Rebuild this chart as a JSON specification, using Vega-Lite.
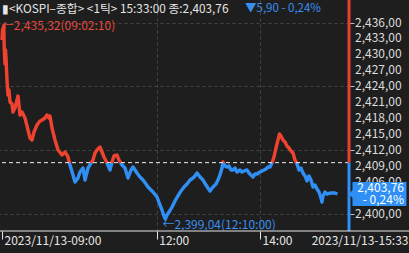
{
  "$schema": "https://vega.github.io/schema/vega-lite/v6.json",
  "width": 349,
  "height": 231,
  "autosize": "none",
  "padding": {"left": 0, "top": 0, "right": 60, "bottom": 22},
  "background": "#1e1e1e",
  "config": {
    "view": {"stroke": null},
    "font": "Noto Sans CJK KR"
  },
  "datasets": {
    "series": [
      {"m": 0, "p": 2432.71}, {"m": 0.58, "p": 2434.59}, {"m": 2.17, "p": 2435.32}, {"m": 2.33, "p": 2432.71},
      {"m": 2.91, "p": 2429.89}, {"m": 3.49, "p": 2428.2}, {"m": 4.07, "p": 2430.83}, {"m": 4.65, "p": 2429.33},
      {"m": 5.81, "p": 2425.19}, {"m": 6.98, "p": 2422.37}, {"m": 8.14, "p": 2423.31}, {"m": 9.3, "p": 2421.06},
      {"m": 11.63, "p": 2420.68}, {"m": 12.79, "p": 2419.18}, {"m": 15.12, "p": 2419.93}, {"m": 16.28, "p": 2420.68},
      {"m": 18.6, "p": 2422.18}, {"m": 19.77, "p": 2420.49}, {"m": 20.93, "p": 2418.61}, {"m": 23.26, "p": 2419.18},
      {"m": 26.74, "p": 2418.05}, {"m": 30.23, "p": 2415.79}, {"m": 32.56, "p": 2414.29}, {"m": 34.88, "p": 2413.91},
      {"m": 37.21, "p": 2415.42}, {"m": 40.7, "p": 2416.73}, {"m": 44.19, "p": 2417.49}, {"m": 46.51, "p": 2417.67},
      {"m": 50.0, "p": 2418.05}, {"m": 52.33, "p": 2418.61}, {"m": 54.65, "p": 2418.05}, {"m": 55.81, "p": 2418.43},
      {"m": 58.14, "p": 2416.17}, {"m": 61.63, "p": 2413.91}, {"m": 65.12, "p": 2412.03}, {"m": 69.77, "p": 2411.09},
      {"m": 73.26, "p": 2411.66}, {"m": 76.74, "p": 2410.72}, {"m": 79.07, "p": 2409.21}, {"m": 82.56, "p": 2407.34},
      {"m": 84.88, "p": 2406.02}, {"m": 88.37, "p": 2406.77}, {"m": 90.7, "p": 2407.9}, {"m": 94.19, "p": 2408.65},
      {"m": 96.51, "p": 2406.4}, {"m": 100.0, "p": 2408.65}, {"m": 103.49, "p": 2409.59}, {"m": 105.81, "p": 2410.15},
      {"m": 108.14, "p": 2411.47}, {"m": 110.47, "p": 2412.03}, {"m": 113.95, "p": 2412.6}, {"m": 116.28, "p": 2411.66},
      {"m": 118.6, "p": 2410.72}, {"m": 122.09, "p": 2409.59}, {"m": 125.58, "p": 2408.28}, {"m": 127.91, "p": 2409.78},
      {"m": 130.23, "p": 2410.91}, {"m": 133.72, "p": 2411.09}, {"m": 136.05, "p": 2410.15}, {"m": 139.53, "p": 2409.21},
      {"m": 143.02, "p": 2408.65}, {"m": 146.51, "p": 2406.77}, {"m": 150.0, "p": 2408.28}, {"m": 152.33, "p": 2408.84},
      {"m": 154.65, "p": 2408.28}, {"m": 156.98, "p": 2407.71}, {"m": 160.47, "p": 2406.96}, {"m": 163.95, "p": 2406.39},
      {"m": 167.44, "p": 2405.64}, {"m": 169.77, "p": 2405.08}, {"m": 173.26, "p": 2404.52}, {"m": 175.58, "p": 2404.14},
      {"m": 180.23, "p": 2403.2}, {"m": 183.72, "p": 2401.7}, {"m": 186.05, "p": 2400.76}, {"m": 188.37, "p": 2399.63},
      {"m": 190.0, "p": 2399.04}, {"m": 191.86, "p": 2399.82}, {"m": 194.19, "p": 2400.38}, {"m": 197.67, "p": 2401.32},
      {"m": 201.16, "p": 2402.45}, {"m": 204.65, "p": 2403.39}, {"m": 208.14, "p": 2404.33}, {"m": 211.63, "p": 2405.08},
      {"m": 215.12, "p": 2405.64}, {"m": 218.6, "p": 2406.39}, {"m": 222.09, "p": 2406.77}, {"m": 224.42, "p": 2407.15},
      {"m": 226.74, "p": 2407.71}, {"m": 230.23, "p": 2406.96}, {"m": 233.72, "p": 2406.39}, {"m": 237.21, "p": 2405.45},
      {"m": 241.86, "p": 2404.33}, {"m": 245.35, "p": 2405.08}, {"m": 248.84, "p": 2405.64}, {"m": 251.16, "p": 2406.39},
      {"m": 253.49, "p": 2407.34}, {"m": 255.81, "p": 2408.65}, {"m": 256.98, "p": 2409.78}, {"m": 259.3, "p": 2409.03},
      {"m": 261.63, "p": 2408.84}, {"m": 263.95, "p": 2409.03}, {"m": 266.28, "p": 2408.28}, {"m": 268.6, "p": 2408.28},
      {"m": 270.93, "p": 2408.65}, {"m": 273.26, "p": 2407.9}, {"m": 276.74, "p": 2408.28}, {"m": 279.07, "p": 2407.9},
      {"m": 281.4, "p": 2408.09}, {"m": 284.88, "p": 2408.28}, {"m": 287.21, "p": 2407.71}, {"m": 289.53, "p": 2407.34},
      {"m": 291.86, "p": 2406.96}, {"m": 294.19, "p": 2407.52}, {"m": 296.51, "p": 2407.52}, {"m": 300.0, "p": 2407.9},
      {"m": 302.33, "p": 2408.09}, {"m": 304.65, "p": 2408.28}, {"m": 306.98, "p": 2408.46}, {"m": 309.3, "p": 2408.84},
      {"m": 311.63, "p": 2408.84}, {"m": 313.95, "p": 2409.59}, {"m": 316.28, "p": 2410.72}, {"m": 318.6, "p": 2412.41},
      {"m": 320.93, "p": 2413.91}, {"m": 322.67, "p": 2415.04}, {"m": 324.42, "p": 2414.67}, {"m": 326.74, "p": 2413.91},
      {"m": 329.07, "p": 2413.54}, {"m": 331.4, "p": 2412.79}, {"m": 333.72, "p": 2412.41}, {"m": 336.05, "p": 2411.85},
      {"m": 338.37, "p": 2411.47}, {"m": 340.7, "p": 2410.15}, {"m": 343.02, "p": 2409.4}, {"m": 345.35, "p": 2408.28},
      {"m": 347.67, "p": 2408.65}, {"m": 350.0, "p": 2407.71}, {"m": 352.33, "p": 2407.15}, {"m": 354.65, "p": 2406.21},
      {"m": 356.98, "p": 2407.15}, {"m": 359.3, "p": 2406.39}, {"m": 361.63, "p": 2405.08}, {"m": 363.95, "p": 2405.45},
      {"m": 366.28, "p": 2404.7}, {"m": 368.6, "p": 2404.14}, {"m": 370.93, "p": 2403.01}, {"m": 372.09, "p": 2402.26},
      {"m": 373.26, "p": 2403.39}, {"m": 375.58, "p": 2404.14}, {"m": 377.91, "p": 2403.76}, {"m": 381.4, "p": 2403.95},
      {"m": 384.88, "p": 2403.95}, {"m": 387.21, "p": 2403.95}, {"m": 390.0, "p": 2403.76}
    ],
    "yticks": [
      {"v": 2400, "t": "2,400,00"}, {"v": 2406, "t": "2,406,00"}, {"v": 2409, "t": "2,409,00"},
      {"v": 2412, "t": "2,412,00"}, {"v": 2415, "t": "2,415,00"}, {"v": 2418, "t": "2,418,00"},
      {"v": 2421, "t": "2,421,00"}, {"v": 2424, "t": "2,424,00"}, {"v": 2427, "t": "2,427,00"},
      {"v": 2430, "t": "2,430,00"}, {"v": 2433, "t": "2,433,00"}, {"v": 2436, "t": "2,436,00"}
    ],
    "bar": [
      {"lo": 2409.66, "hi": 2440.23, "side": "up"},
      {"lo": 2396.81, "hi": 2409.66, "side": "down"}
    ],
    "ref": [{"ref": 2409.66}],
    "maxpt": [{"m": 2.17, "p": 2435.32, "label": "←2,435,32(09:02:10)"}],
    "minpt": [{"m": 190.0, "p": 2399.04, "label": "←2,399,04(12:10:00)"}],
    "last": [{"p": 2403.76, "price": "2,403,76", "chg": "- 0,24%"}]
  },
  "layer": [
    {
      "data": {"name": "series"},
      "mark": {
        "type": "line",
        "strokeWidth": 3.4,
        "strokeJoin": "round",
        "stroke": {
          "gradient": "linear", "x1": 0, "y1": 0, "x2": 0, "y2": 1,
          "stops": [
            {"offset": 0, "color": "#f0432f"},
            {"offset": 0.7073, "color": "#f0432f"},
            {"offset": 0.7073, "color": "#2f8ff5"},
            {"offset": 1, "color": "#2f8ff5"}
          ]
        }
      },
      "encoding": {
        "x": {
          "field": "m", "type": "quantitative",
          "scale": {"domain": [-2.33, 403.5], "nice": false, "zero": false},
          "axis": {
            "orient": "bottom", "title": null, "domain": false,
            "values": [0, 180, 300, 403.5],
            "labelExpr": "datum.value == 0 ? '2023/11/13-09:00' : datum.value == 180 ? '12:00' : datum.value == 300 ? '14:00' : '2023/11/13-15:33'",
            "labelFont": "Noto Sans CJK KR", "labelFontSize": 12, "labelColor": "#e6e6e6",
            "labelBaseline": "top", "labelPadding": -4,
            "labelAlign": {"condition": {"test": "datum.value == 403.5", "value": "right"}, "value": "left"},
            "labelOffset": {"condition": {"test": "datum.value == 403.5", "value": 59}, "value": 2},
            "labelOverlap": false, "labelBound": false, "labelFlush": false,
            "tickSize": 8, "tickColor": "#e6e6e6",
            "tickOpacity": {"condition": {"test": "datum.value == 403.5", "value": 0}, "value": 1},
            "grid": true, "gridColor": "#444444", "gridDash": [3, 3],
            "gridOpacity": {"condition": {"test": "datum.value == 180 || datum.value == 300", "value": 1}, "value": 0}
          }
        },
        "y": {
          "field": "p", "type": "quantitative",
          "scale": {"domain": [2396.81, 2440.23], "nice": false, "zero": false},
          "axis": {
            "orient": "right", "title": null, "domain": false, "labels": false,
            "values": [2400, 2403, 2406, 2409, 2412, 2415, 2418, 2421, 2424, 2427, 2430, 2433, 2436],
            "tickSize": 5, "tickColor": "#bbbbbb",
            "grid": true, "gridColor": "#444444", "gridDash": [3, 3]
          }
        }
      }
    },
    {
      "data": {"name": "yticks"},
      "mark": {"type": "text", "align": "left", "baseline": "middle", "dx": 6, "fontSize": 12, "font": "Noto Sans CJK KR", "color": "#dcdcdc"},
      "encoding": {
        "x": {"datum": 403.5, "type": "quantitative", "scale": {"domain": [-2.33, 403.5], "nice": false, "zero": false}},
        "y": {"field": "v", "type": "quantitative", "scale": {"domain": [2396.81, 2440.23], "nice": false, "zero": false}},
        "text": {"field": "t"}
      }
    },
    {
      "data": {"name": "ref"},
      "mark": {"type": "rule", "color": "#eeeeee", "strokeDash": [4, 3], "strokeWidth": 1},
      "encoding": {
        "y": {"field": "ref", "type": "quantitative", "scale": {"domain": [2396.81, 2440.23], "nice": false, "zero": false}}
      }
    },
    {
      "data": {"name": "bar"},
      "mark": {"type": "rule", "strokeWidth": 3},
      "encoding": {
        "x": {"datum": 403.5, "type": "quantitative", "scale": {"domain": [-2.33, 403.5], "nice": false, "zero": false}},
        "y": {"field": "lo", "type": "quantitative", "scale": {"domain": [2396.81, 2440.23], "nice": false, "zero": false}},
        "y2": {"field": "hi"},
        "color": {"field": "side", "type": "nominal", "scale": {"domain": ["up", "down"], "range": ["#e8402d", "#2f8ff5"]}, "legend": null}
      }
    },
    {
      "data": {"name": "ref"},
      "mark": {"type": "rule", "color": "#e6e6e6", "strokeWidth": 1},
      "encoding": {
        "x": {"datum": -2.33, "type": "quantitative", "scale": {"domain": [-2.33, 403.5], "nice": false, "zero": false}},
        "x2": {"datum": 474},
        "y": {"datum": 2396.81, "type": "quantitative", "scale": {"domain": [2396.81, 2440.23], "nice": false, "zero": false}}
      }
    },
    {
      "data": {"name": "maxpt"},
      "mark": {"type": "text", "align": "left", "baseline": "middle", "dx": -2, "dy": -0.5, "fontSize": 12, "font": "Noto Sans CJK KR", "color": "#e8483a"},
      "encoding": {
        "x": {"field": "m", "type": "quantitative", "scale": {"domain": [-2.33, 403.5], "nice": false, "zero": false}},
        "y": {"field": "p", "type": "quantitative", "scale": {"domain": [2396.81, 2440.23], "nice": false, "zero": false}},
        "text": {"field": "label"}
      }
    },
    {
      "data": {"name": "minpt"},
      "mark": {"type": "text", "align": "left", "baseline": "middle", "dx": -3, "dy": 6, "fontSize": 12, "font": "Noto Sans CJK KR", "color": "#3a8fee"},
      "encoding": {
        "x": {"field": "m", "type": "quantitative", "scale": {"domain": [-2.33, 403.5], "nice": false, "zero": false}},
        "y": {"field": "p", "type": "quantitative", "scale": {"domain": [2396.81, 2440.23], "nice": false, "zero": false}},
        "text": {"field": "label"}
      }
    },
    {
      "data": {"name": "last"},
      "mark": {
        "type": "point", "filled": true, "opacity": 1, "color": "#2f8ff5", "size": 13456,
        "shape": "M0,0 L0.06,-0.07 L0.06,-0.207 L0.991,-0.207 L0.991,0.207 L0.06,0.207 L0.06,0.07 Z"
      },
      "encoding": {
        "x": {"datum": 403.5, "type": "quantitative", "scale": {"domain": [-2.33, 403.5], "nice": false, "zero": false}},
        "y": {"field": "p", "type": "quantitative", "scale": {"domain": [2396.81, 2440.23], "nice": false, "zero": false}}
      }
    },
    {
      "data": {"name": "last"},
      "mark": {"type": "text", "align": "right", "baseline": "middle", "dx": 55, "dy": -6, "fontSize": 12, "font": "Noto Sans CJK KR", "color": "#ffffff"},
      "encoding": {
        "x": {"datum": 403.5, "type": "quantitative", "scale": {"domain": [-2.33, 403.5], "nice": false, "zero": false}},
        "y": {"field": "p", "type": "quantitative", "scale": {"domain": [2396.81, 2440.23], "nice": false, "zero": false}},
        "text": {"field": "price"}
      }
    },
    {
      "data": {"name": "last"},
      "mark": {"type": "text", "align": "right", "baseline": "middle", "dx": 55, "dy": 6, "fontSize": 12, "font": "Noto Sans CJK KR", "color": "#ffffff"},
      "encoding": {
        "x": {"datum": 403.5, "type": "quantitative", "scale": {"domain": [-2.33, 403.5], "nice": false, "zero": false}},
        "y": {"field": "p", "type": "quantitative", "scale": {"domain": [2396.81, 2440.23], "nice": false, "zero": false}},
        "text": {"field": "chg"}
      }
    },
    {
      "data": {"name": "last"},
      "mark": {"type": "text", "align": "left", "baseline": "middle", "dx": 2, "dy": 9, "fontSize": 11.8, "font": "Noto Sans CJK KR", "color": "#e6e6e6", "text": "▮<KOSPI–종합> <1틱> 15:33:00 종:2,403,76"},
      "encoding": {
        "x": {"datum": -2.33, "type": "quantitative", "scale": {"domain": [-2.33, 403.5], "nice": false, "zero": false}},
        "y": {"datum": 2440.23, "type": "quantitative", "scale": {"domain": [2396.81, 2440.23], "nice": false, "zero": false}}
      }
    },
    {
      "data": {"name": "last"},
      "mark": {"type": "text", "align": "left", "baseline": "middle", "dy": 9, "fontSize": 11.5, "font": "Noto Sans CJK KR", "color": "#3a8fee", "text": "▼5,90  - 0,24%"},
      "encoding": {
        "x": {"datum": 282.6, "type": "quantitative", "scale": {"domain": [-2.33, 403.5], "nice": false, "zero": false}},
        "y": {"datum": 2440.23, "type": "quantitative", "scale": {"domain": [2396.81, 2440.23], "nice": false, "zero": false}}
      }
    }
  ]
}
